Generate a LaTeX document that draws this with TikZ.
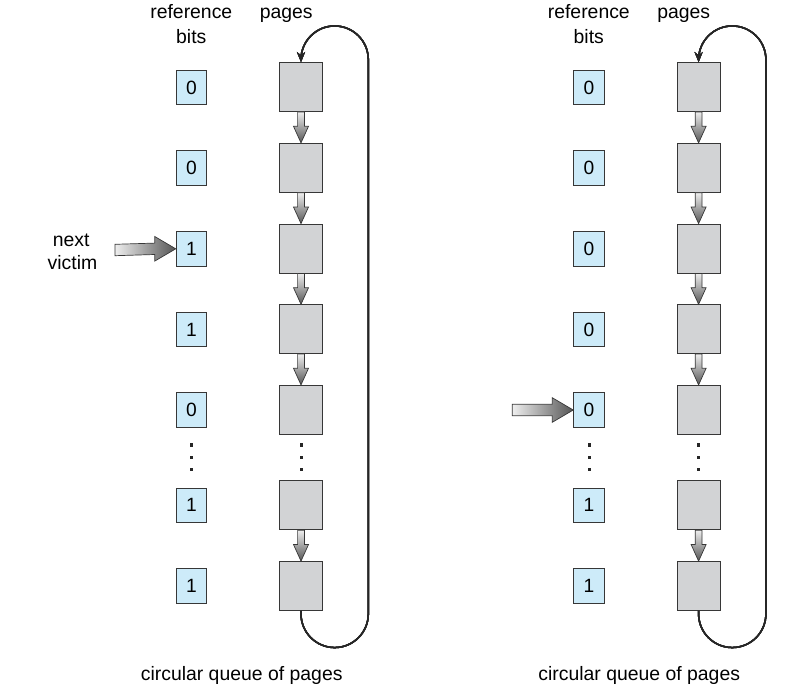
\documentclass[tikz,border=0pt]{standalone}
\usepackage{fontspec}
\setmainfont{Liberation Sans}
\usetikzlibrary{arrows.meta,calc}
\definecolor{bitfill}{RGB}{205,235,249}
\definecolor{pagefill}{RGB}{210,211,213}
\definecolor{edgecol}{RGB}{55,55,55}
\definecolor{shadelight}{RGB}{238,238,238}
\definecolor{shadedark}{RGB}{85,85,85}
\newcommand\fatdown[2]{%
  \shade[top color=shadelight, bottom color=shadedark, draw=edgecol, line width=0.7pt, line join=miter]
  ($(#1.south)+(-3.4,0)$) -- ($(#2.north)+(-3.4,-16.6)$) -- ($(#2.north)+(-7.5,-16.6)$) --
  (#2.north) -- ($(#2.north)+(7.5,-16.6)$) -- ($(#2.north)+(3.4,-16.6)$) --
  ($(#1.south)+(3.4,0)$) -- cycle;}
\newcommand\fatright[2]{%
  \shade[left color=shadelight, right color=shadedark, draw=edgecol, line width=0.7pt, line join=miter]
  ($(#1)+(0,-5.7)$) -- ($(#2.west)+(-21,-5.7)$) -- ($(#2.west)+(-21,-12.3)$) --
  (#2.west) -- ($(#2.west)+(-21,12.3)$) -- ($(#2.west)+(-21,5.7)$) --
  ($(#1)+(0,5.7)$) -- cycle;}
\tikzset{
  txt/.style={font=\fontsize{19.4}{23}\selectfont, inner sep=0pt},
  bitbox/.style={draw=edgecol, fill=bitfill, line width=0.8pt, minimum width=30.7pt, minimum height=34.7pt, inner sep=0pt, font=\fontsize{19.2}{23}\selectfont},
  pagebox/.style={draw=edgecol, fill=pagefill, line width=0.8pt, minimum width=43.4pt, minimum height=49pt, inner sep=0pt},
  looppath/.style={draw=black!85, line width=1.5pt, -{Stealth[length=10pt,width=8pt]}},
  dotsq/.style={fill=black!85}
}
\begin{document}
\begin{tikzpicture}[x=1pt,y=-1pt]
\useasboundingbox (0,0) rectangle (808,691);
% ---------- left panel ----------
\node[txt, anchor=base] (Lref) at (191.3,18) {reference};
\node[txt, anchor=base] (Lbits) at (191.3,43.3) {bits};
\node[txt, anchor=base] (Lpages) at (286.2,18) {pages};
\foreach \i/\y/\b in {1/87.5/0,2/168.2/0,3/248.8/1,4/329.4/1,5/410/0,6/505.3/1,7/585.9/1}
  \node[bitbox] (Lb\i) at (191.5,\y) {\raisebox{-0.7pt}{\b}};
\foreach \i/\y in {1/87,2/167.8,3/248.5,4/329.2,5/409.8,6/505.3,7/586}
  \node[pagebox] (Lp\i) at (301,\y) {};
\foreach \a/\b in {1/2,2/3,3/4,4/5,6/7} \fatdown{Lp\a}{Lp\b}
\foreach \y in {445,457.3,469.7} {
  \fill[dotsq] (190,\y-1.6) rectangle ++(3.3,3.3);
  \fill[dotsq] (299.6,\y-1.6) rectangle ++(3.3,3.3);
}
\draw[looppath] (Lp7.south) -- ++(0,3) arc[start angle=180,end angle=0,radius=33.65]
  -- ($(Lp1.north)+(67.3,-2.5)$) arc[start angle=0,end angle=-180,radius=33.65] -- (Lp1.north);
\node[txt, anchor=base] (Lnext) at (71.2,246) {next};
\node[txt, anchor=base] (Lvictim) at (72.5,269.3) {victim};
\coordinate (Lstart) at (115,250);
\fatright{Lstart}{Lb3}
\node[txt, anchor=base] (Lcap) at (241.7,680) {circular queue of pages};
% ---------- right panel ----------
\node[txt, anchor=base] (Rref) at (588.8,18) {reference};
\node[txt, anchor=base] (Rbits) at (588.8,43.3) {bits};
\node[txt, anchor=base] (Rpages) at (683.7,18) {pages};
\foreach \i/\y/\b in {1/87.5/0,2/168.2/0,3/248.8/0,4/329.4/0,5/410/0,6/505.3/1,7/585.9/1}
  \node[bitbox] (Rb\i) at (589,\y) {\raisebox{-0.7pt}{\b}};
\foreach \i/\y in {1/87,2/167.8,3/248.5,4/329.2,5/409.8,6/505.3,7/586}
  \node[pagebox] (Rp\i) at (698.6,\y) {};
\foreach \a/\b in {1/2,2/3,3/4,4/5,6/7} \fatdown{Rp\a}{Rp\b}
\foreach \y in {445,457.3,469.7} {
  \fill[dotsq] (587.5,\y-1.6) rectangle ++(3.3,3.3);
  \fill[dotsq] (697.1,\y-1.6) rectangle ++(3.3,3.3);
}
\draw[looppath] (Rp7.south) -- ++(0,3) arc[start angle=180,end angle=0,radius=33.65]
  -- ($(Rp1.north)+(67.3,-2.5)$) arc[start angle=0,end angle=-180,radius=33.65] -- (Rp1.north);
\coordinate (Rstart) at (512.3,410);
\fatright{Rstart}{Rb5}
\node[txt, anchor=base] (Rcap) at (639.2,680) {circular queue of pages};
\end{tikzpicture}
\end{document}
